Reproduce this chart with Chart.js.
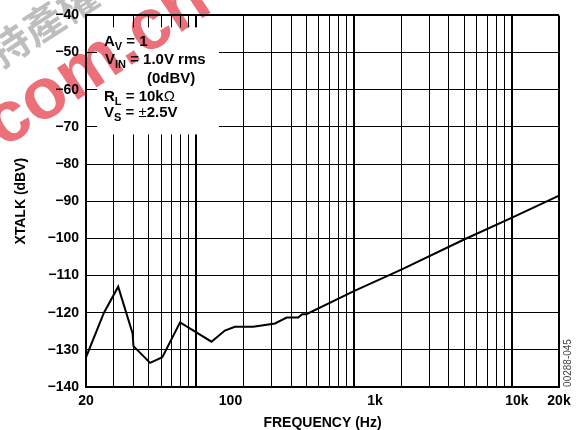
<!DOCTYPE html>
<html>
<head>
<meta charset="utf-8">
<script src="https://cdn.jsdelivr.net/npm/chart.js@4/dist/chart.umd.min.js"></script>
<style>
html,body{margin:0;padding:0;background:#fff}
</style>
</head>
<body>
<canvas id="chart" width="588" height="430"></canvas>
<script>
// crosstalk vs frequency
let freq=[20,26,32,39.5,40,51,61,79,125,152,176,230,316,375,444,470,500,1000,2000,5000,10000,20000]
let xtalk=[-132,-120,-113,-125.6,-129,-133.5,-132,-122.6,-127.8,-124.8,-123.8,-123.8,-122.9,-121.3,-121.3,-120.4,-120.4,-114.2,-108.4,-100.3,-94.5,-88.5]

let yTicks=[-140,-130,-120,-110,-100,-90,-80,-70,-60,-50,-40]
let xGrid=[20,30,40,50,60,70,80,90,100,200,300,400,500,600,700,800,900,1000,2000,3000,4000,5000,6000,7000,8000,9000,10000,20000]
let xLabels=["20","100","1k","10k","20k"]
// the reference prints its frequency labels a little off the grid lines
let xLabelAt=[20,165,1360,10800,20000]

let FONT="'Liberation Sans', Arial, sans-serif"
let bold=s=>({family:FONT,size:s,weight:"bold"})

// white box with the test conditions, top left of the plot
let condBox={
id:"condBox",
beforeDatasetsDraw(chart){
let c=chart.ctx
let a=chart.chartArea
c.save()
c.fillStyle="#fff"
c.fillRect(a.left+11,a.top+12,122,107)
let lines=[
{x:18,y:31,runs:[["A"],["V",1],[" = 1"]]},
{x:19,y:49,runs:[["V"],["IN",1],[" = 1.0V rms"]]},
{x:61,y:68,runs:[["(0dBV)"]]},
{x:18,y:86,runs:[["R"],["L",1],[" = 10k"],["\u03A9",2]]},
{x:18,y:102,runs:[["V"],["S",1],[" = "],["\u00B1",2],["2.5V"]]}
]
c.fillStyle="#000"
c.textBaseline="alphabetic"
c.textAlign="left"
lines.forEach(l=>{
let x=a.left+l.x
l.runs.forEach(r=>{
let sub=r[1]==1
c.font=(r[1]==2?"":"bold ")+(sub?"11px ":"15px ")+FONT
c.fillText(r[0],x,a.top+l.y+(sub?4:0))
x+=c.measureText(r[0]).width
})
})
c.restore()
},
afterDraw(chart){
let c=chart.ctx
c.save()
// figure number on the right edge
c.translate(568,363)
c.rotate(-Math.PI/2)
c.font="10px "+FONT
c.fillStyle="#444"
c.textAlign="center"
c.textBaseline="middle"
c.fillText("00288-045",0,0)
c.restore()

// website watermark over the top left corner
c.save()
c.globalCompositeOperation="multiply"
c.translate(3.5,148.6)
c.rotate(-0.58)
c.font="bold 72px "+FONT
c.fillStyle="rgb(236,112,122)"
c.fillText("com.cn",0,0)
c.font="bold 40px 'Noto Sans CJK SC'"
c.fillStyle="rgb(190,190,190)"
c.fillText("\u6301\u7522\u6B0A",42,-68)
c.restore()
}
}

let ctx=document.getElementById("chart").getContext("2d")

let chart=new Chart(ctx,{
type:"line",
data:{
datasets:[{
data:freq.map((f,i)=>({x:f,y:xtalk[i]})),
borderColor:"#000",
borderWidth:2,
pointRadius:0,
tension:0
}]
},
options:{
responsive:false,
animation:false,
devicePixelRatio:1,
layout:{padding:{top:6.6,right:29,left:0,bottom:0}},
plugins:{legend:{display:false},tooltip:{enabled:false}},
scales:{
x:{
type:"logarithmic",
min:20,max:20000,
position:"bottom",
afterBuildTicks:s=>{s.ticks=xGrid.map(v=>({value:v}))},
afterFit:s=>{s.height=0},
ticks:{display:false},
grid:{color:"#000",drawTicks:false,lineWidth:c=>[100,1000,10000,20000].includes(c.tick&&c.tick.value)?2:1},
border:{color:"#000",width:2}
},
x2:{
type:"logarithmic",
min:20,max:20000,
position:"bottom",
afterBuildTicks:s=>{s.ticks=xLabelAt.map(v=>({value:v}))},
afterFit:s=>{s.height=43},
grid:{display:false,drawTicks:false},
border:{display:false},
ticks:{autoSkip:false,maxRotation:0,padding:6,color:"#000",font:bold(14),callback:(v,i)=>xLabels[i]},
title:{display:true,text:"FREQUENCY (Hz)",color:"#000",font:{family:FONT,size:14,weight:"bold",lineHeight:1},padding:{top:0,bottom:0}}
},
y:{
min:-140,max:-40,
afterBuildTicks:s=>{s.ticks=yTicks.map(v=>({value:v}))},
afterFit:s=>{s.width=86},
ticks:{padding:7,color:"#000",font:bold(14),callback:v=>"\u2212"+Math.abs(v)},
grid:{color:"#000",drawTicks:false,lineWidth:c=>c.tick&&c.tick.value==-40?2:1},
border:{color:"#000",width:2},
title:{display:true,text:"XTALK (dBV)",color:"#000",font:bold(14),padding:{top:13,bottom:0}}
}
}
},
plugins:[condBox]
})
</script>
</body>
</html>
